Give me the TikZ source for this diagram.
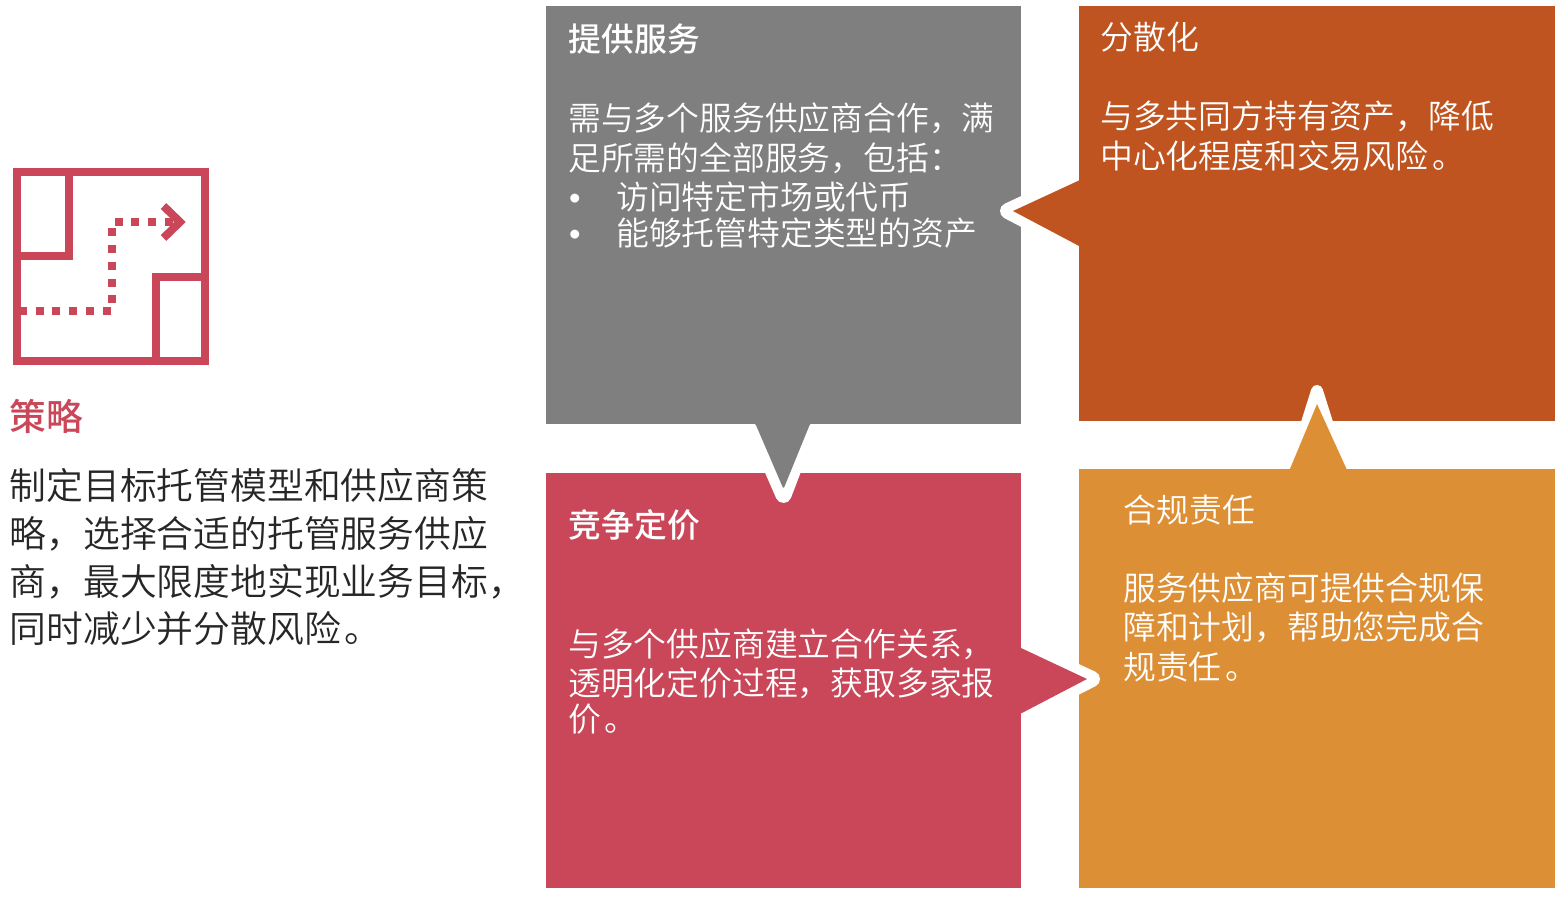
\documentclass[tikz,border=0pt]{standalone}
\usepackage{fontspec}
\setmainfont{Noto Sans CJK SC}[UprightFont=* DemiLight,BoldFont=* Medium]
\newfontfamily\bulletfont{Liberation Sans}
\definecolor{cgray}{HTML}{7F7F7F}
\definecolor{cred}{HTML}{C94759}
\definecolor{corange}{HTML}{BF5420}
\definecolor{cyellow}{HTML}{DD8F35}
\definecolor{cdark}{HTML}{262626}
\tikzset{
  panel/.style={draw=none,inner sep=0pt,outer sep=0pt,anchor=north west},
  halo/.style={draw=white,line width=16pt,line join=round,line cap=round},
  wt/.style={anchor=base west,inner sep=0pt,text=white,font=\fontsize{32.8}{32.8}\selectfont},
  wh/.style={wt,font=\fontsize{32.8}{32.8}\selectfont\bfseries},
  dk/.style={anchor=base west,inner sep=0pt,text=cdark,font=\fontsize{36.8}{36.8}\selectfont},
  wall/.style={draw=cred,line width=8pt,miter limit=10},
  dot/.style={fill=cred,inner sep=0pt,outer sep=0pt,minimum size=8pt,draw=none},
}
\newcommand{\panelbox}[6]{\node[panel,fill=#6,minimum width=#4pt,minimum height=#5pt] (#1) at (#2,#3) {};}
\begin{document}
\begin{tikzpicture}[x=1pt,y=-1pt]
\useasboundingbox[fill=white] (0,0) rectangle (1568,902);
% panels
\panelbox{grayp}{546}{6}{475}{417.5}{cgray}
\panelbox{orangep}{1079}{6}{476}{414.5}{corange}
\panelbox{redp}{546}{473}{475}{414.5}{cred}
\panelbox{yellowp}{1079}{469}{476}{418.5}{cyellow}
% tails
\begin{scope}
  \clip (546,450) rectangle (1021,600);
  \draw[halo] (752,423) -- (783.5,495) -- (811,423);
\end{scope}
\fill[cgray,rounded corners=1.5pt] (752,422) -- (755.5,424) -- (783.5,489) -- (810,424) -- (813,422) -- cycle;
\begin{scope}
  \clip (950,150) rectangle (1050,280);
  \draw[halo] (1079,178) -- (1008,211) -- (1079,248);
\end{scope}
\fill[corange] (1080,180) -- (1013,211) -- (1080,246.5) -- cycle;
\begin{scope}
  \clip (1240,350) rectangle (1400,445);
  \draw[halo,line width=12pt] (1300,445) -- (1317,391) -- (1334,445);
\end{scope}
\fill[cyellow] (1289.5,470) -- (1317,404) -- (1347,470) -- cycle;
\begin{scope}
  \clip (1050,620) rectangle (1130,740);
  \draw[halo] (1021,646) -- (1092,679) -- (1021,715);
\end{scope}
\fill[cred] (1020,647.5) -- (1087,679) -- (1020,714) -- cycle;
% icon
\draw[wall] (17,172) rectangle (205,361) ;
\draw[wall] (69,172) -- (69,256) -- (17,256);
\draw[wall] (156,361) -- (156,277) -- (205,277);
\foreach \px/\py [count=\n] in {23/311,40/311,56/311,73/311,90/311,107/311,112/299,112/283,112/266,112/249,112/232,119/222,135/222,152/222,169/222}
  \node[dot] (d\n) at (\px,\py) {};
\draw[draw=cred,line width=8pt] (163.5,206) -- (180,222) -- (163.5,238);
% left text
\node[anchor=base west,inner sep=0pt,text=cred,font=\fontsize{36.8}{36.8}\selectfont\bfseries] (ttl) at (9.5,430) {策略};
\node[dk] (l1) at (9.5,499) {制定目标托管模型和供应商策};
\node[dk] (l2) at (9.5,547) {略，选择合适的托管服务供应};
\node[dk] (l3) at (9.5,595) {商，最大限度地实现业务目标，};
\node[dk] (l4) at (9.5,642) {同时减少并分散风险\kern4pt。};
% gray
\node[wh] (g0) at (568.5,51) {提供服务};
\node[wt] (g1) at (568,130) {需与多个服务供应商合作，满};
\node[wt] (g2) at (568,170) {足所需的全部服务，包括：};
\node[wt,font=\bulletfont\fontsize{32.8}{32.8}\selectfont] (gb1) at (569,209) {•};
\node[wt] (g3) at (616,209) {访问特定市场或代币};
\node[wt,font=\bulletfont\fontsize{32.8}{32.8}\selectfont] (gb2) at (569,245) {•};
\node[wt] (g4) at (616,245) {能够托管特定类型的资产};
% orange
\node[wt] (o0) at (1100.5,49) {分散化};
\node[wt] (o1) at (1100,128) {与多共同方持有资产，降低};
\node[wt] (o2) at (1100,168) {中心化程度和交易风险\kern4pt。};
% red
\node[wh] (r0) at (568.5,537) {竞争定价};
\node[wt] (r1) at (568,656) {与多个供应商建立合作关系，};
\node[wt] (r2) at (568,695) {透明化定价过程，获取多家报};
\node[wt] (r3) at (568,731) {价\kern4pt。};
% yellow
\node[wt] (y0) at (1123.5,522) {合规责任};
\node[wt] (y1) at (1123,600) {服务供应商可提供合规保};
\node[wt] (y2) at (1123,639) {障和计划，帮助您完成合};
\node[wt] (y3) at (1123,679) {规责任\kern4pt。};
\end{tikzpicture}
\end{document}
